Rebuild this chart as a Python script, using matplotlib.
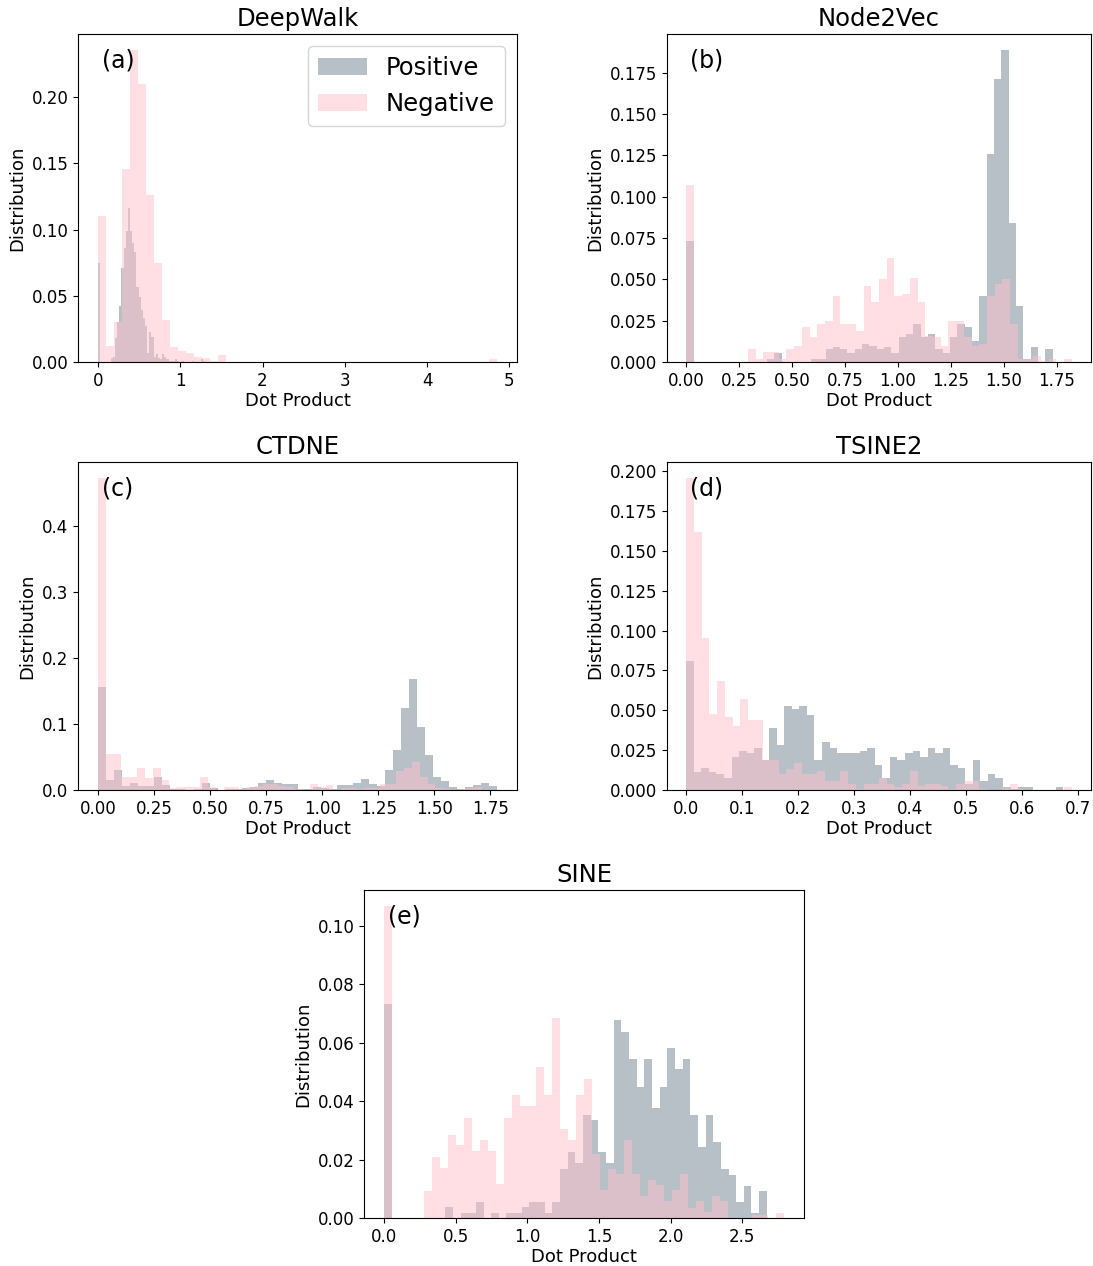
import numpy as np
import matplotlib
matplotlib.use("Agg")
import matplotlib.pyplot as plt
from matplotlib.ticker import MultipleLocator, FormatStrFormatter

# -------------------- data (bin heights, 50 bins each) --------------------

titles = ["DeepWalk", "Node2Vec", "CTDNE", "TSINE2", "SINE"]
tags = ["(a)", "(b)", "(c)", "(d)", "(e)"]

# value range of each histogram: (lo, hi)
a_pos_range, a_neg_range = (0.0, 1.30), (0.0, 4.85)
b_pos_range, b_neg_range = (0.0, 1.73), (0.0, 1.82)
c_pos_range, c_neg_range = (0.0, 1.78), (0.0, 1.75)
d_pos_range, d_neg_range = (0.0, 0.673), (0.0, 0.688)
e_pos_range, e_neg_range = (0.0, 2.67), (0.0, 2.79)

a_pos = [0.075, 0, 0, 0, 0, 0, 0.003, 0.004, 0.018, 0.030,
         0.042, 0.071, 0.086, 0.099, 0.116, 0.099, 0.090, 0.083, 0.057, 0.049,
         0.039, 0.033, 0.027, 0.007, 0.023, 0.019, 0.004, 0.006, 0.003, 0.002,
         0.006, 0.004, 0.002, 0.001, 0.001, 0.001, 0.002, 0.001, 0, 0.001,
         0, 0, 0, 0, 0.001, 0, 0, 0, 0.002, 0.001]
a_neg = [0.110, 0.012, 0.030, 0.146, 0.236, 0.210, 0.126, 0.075, 0.032, 0.011,
         0.008, 0.0067, 0.004, 0.003, 0.001, 0.005, 0, 0, 0, 0,
         0, 0, 0, 0, 0, 0, 0, 0, 0, 0,
         0, 0, 0, 0, 0, 0, 0, 0, 0, 0,
         0, 0, 0, 0, 0, 0, 0, 0, 0, 0.002]

b_pos = [0.0734, 0, 0, 0, 0, 0, 0, 0, 0, 0,
         0, 0.0016, 0.0056, 0, 0, 0, 0, 0.0016, 0.0016, 0.0076,
         0.009, 0.0076, 0.0056, 0.0076, 0.011, 0.0096, 0.0076, 0.009, 0.0056, 0.015,
         0.0167, 0.0227, 0.015, 0.0167, 0.0076, 0.0056, 0.015, 0.0227, 0.021, 0.0127,
         0.040, 0.126, 0.171, 0.189, 0.0844, 0.0338, 0.0016, 0.009, 0, 0.0076]
b_neg = [0.107, 0, 0, 0, 0, 0, 0, 0, 0.0076, 0.0016,
         0.006, 0.006, 0.002, 0.0076, 0.0096, 0.021, 0.0153, 0.0227, 0.0247, 0.040,
         0.0227, 0.0227, 0.019, 0.046, 0.036, 0.050, 0.063, 0.040, 0.041, 0.051,
         0.036, 0.0157, 0.015, 0.0096, 0.0247, 0.0247, 0.015, 0.0096, 0.011, 0.040,
         0.047, 0.050, 0.0227, 0.0016, 0.0016, 0.0036, 0.0006, 0.0016, 0, 0.0016]

c_pos = [0.157, 0.015, 0.030, 0.006, 0.011, 0.006, 0.006, 0.0198, 0.0076, 0.001,
         0.001, 0, 0.001, 0.011, 0.0036, 0, 0.001, 0.001, 0.0036, 0.0046,
         0.011, 0.015, 0.011, 0.0096, 0.0096, 0.001, 0.001, 0.0046, 0.0025, 0.001,
         0.007, 0.007, 0.010, 0.016, 0.0096, 0.006, 0.030, 0.061, 0.124, 0.168,
         0.096, 0.053, 0.020, 0.014, 0.005, 0.001, 0.0046, 0.007, 0.011, 0.006]
c_neg = [0.474, 0.054, 0.054, 0.019, 0.019, 0.034, 0.018, 0.034, 0.015, 0.0025,
         0.0045, 0.0045, 0.0045, 0.019, 0.0045, 0, 0.0045, 0.0045, 0.001, 0.0045,
         0.006, 0.0096, 0.0096, 0.006, 0.0045, 0.001, 0, 0.0086, 0.0045, 0.0076,
         0, 0.0025, 0.0025, 0.001, 0.0025, 0.0025, 0.0086, 0.0096, 0.029, 0.034,
         0.042, 0.019, 0.0086, 0.0025, 0.001, 0, 0.001, 0.0025, 0.0045, 0]

d_pos = [0.081, 0.011, 0.0135, 0.011, 0.0098, 0.0077, 0.0206, 0.0244, 0.023, 0.0265,
         0.019, 0.039, 0.0285, 0.0525, 0.051, 0.0525, 0.047, 0.019, 0.030, 0.0265,
         0.023, 0.023, 0.023, 0.0244, 0.0265, 0.0154, 0.0077, 0.0206, 0.019, 0.023,
         0.0244, 0.0206, 0.0265, 0.023, 0.0265, 0.0154, 0.0135, 0.004, 0.019, 0.0056,
         0.0098, 0.0077, 0.0019, 0.0004, 0.0019, 0.0019, 0, 0, 0, 0.0019]
d_neg = [0.196, 0.162, 0.0956, 0.0477, 0.0685, 0.046, 0.040, 0.057, 0.044, 0.044,
         0.019, 0.019, 0.0098, 0.013, 0.017, 0.0098, 0.0098, 0.012, 0.0056, 0.0056,
         0.012, 0.004, 0.0004, 0.004, 0.004, 0.0077, 0.004, 0.0019, 0.004, 0.012,
         0.0025, 0.004, 0.004, 0.0025, 0.0004, 0.004, 0.0056, 0.0056, 0.0004, 0,
         0, 0.0015, 0.004, 0.0004, 0, 0, 0, 0, 0, 0.0019]

e_pos = [0.0734, 0, 0, 0, 0, 0, 0, 0, 0.0037, 0,
         0.0017, 0.0017, 0.0054, 0, 0.0017, 0, 0.0017, 0.0017, 0.0037, 0.0054,
         0.0054, 0.0017, 0.0054, 0.0168, 0.0225, 0.0189, 0.0354, 0.0337, 0.0225, 0.0189,
         0.0678, 0.0638, 0.0543, 0.0449, 0.0543, 0.0377, 0.0449, 0.0583, 0.0509, 0.0543,
         0.0354, 0.0243, 0.0354, 0.0261, 0.0168, 0.0149, 0.0054, 0.0111, 0.0017, 0.0094]
e_neg = [0.107, 0, 0, 0, 0, 0.0094, 0.0209, 0.0171, 0.0286, 0.0251,
         0.0343, 0.0229, 0.0266, 0.0229, 0.0117, 0.0343, 0.042, 0.0383, 0.0383, 0.0517,
         0.042, 0.0686, 0.0305, 0.0266, 0.042, 0.0477, 0.022, 0.0095, 0.0169, 0.0152,
         0.0266, 0.0152, 0.0074, 0.0131, 0.0114, 0.0057, 0.0095, 0.0151, 0.0034, 0.0057,
         0.0019, 0.0074, 0.0057, 0, 0, 0, 0.001, 0.001, 0, 0.0017]

panels = [
    (a_pos, a_pos_range, a_neg, a_neg_range),
    (b_pos, b_pos_range, b_neg, b_neg_range),
    (c_pos, c_pos_range, c_neg, c_neg_range),
    (d_pos, d_pos_range, d_neg, d_neg_range),
    (e_pos, e_pos_range, e_neg, e_neg_range),
]

# -------------------- layout --------------------

W, H = 1093, 1266
# axes boxes in pixels: left, top, right, bottom
boxes = [
    (78, 34, 517, 362),
    (667, 34, 1091, 362),
    (78, 462, 517, 790),
    (667, 462, 1091, 790),
    (364, 890, 804, 1218),
]
# x tick step per panel (None = matplotlib default)
xsteps = [None, 0.25, 0.25, None, None]

pos_color = "slategray"
neg_color = "pink"


def draw_hist(ax, heights, rng, color, label):
    edges = np.linspace(rng[0], rng[1], len(heights) + 1)
    ax.hist(edges[:-1], bins=edges, weights=heights, color=color, alpha=0.5, label=label)


fig = plt.figure(figsize=(W / 100, H / 100), dpi=100)

for i, (pos, prng, neg, nrng) in enumerate(panels):
    l, t, r, b = boxes[i]
    ax = fig.add_axes([l / W, 1 - b / H, (r - l) / W, (b - t) / H])
    draw_hist(ax, pos, prng, pos_color, "Positive")
    draw_hist(ax, neg, nrng, neg_color, "Negative")
    if xsteps[i]:
        ax.xaxis.set_major_locator(MultipleLocator(xsteps[i]))
        ax.xaxis.set_major_formatter(FormatStrFormatter("%.2f"))
    ax.set_title(titles[i], fontsize=17.5)
    ax.set_xlabel("Dot Product", fontsize=13, labelpad=2)
    ax.set_ylabel("Distribution", fontsize=13)
    ax.tick_params(labelsize=12)
    ax.text(0.055, 0.92, tags[i], transform=ax.transAxes, fontsize=17,
            ha="left", va="center")
    if i == 0:
        ax.legend(loc="upper right", fontsize=17.5)

fig.savefig("out.png", dpi=100)
